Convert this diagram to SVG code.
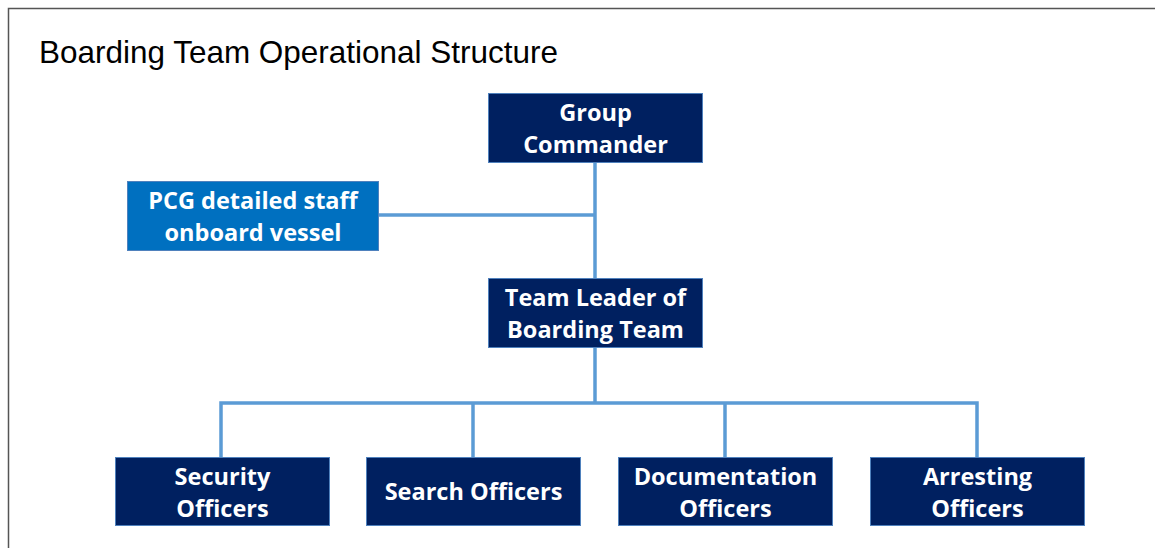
<svg xmlns="http://www.w3.org/2000/svg" width="1155" height="548" viewBox="0 0 1155 548">
<style>
.frame{fill:none;stroke:#555;stroke-width:1.5}
.box{fill:#002060;stroke:#4F81BD;stroke-width:1}
.box2{fill:#0070C0;stroke:#4F81BD;stroke-width:1}
.lbl{font-family:"Open Sans","Liberation Sans",sans-serif;font-weight:bold;font-size:23.5px;fill:#fff;text-anchor:middle}
.title{font-family:"Liberation Sans",Arial,sans-serif;font-size:32px;fill:#000}
.con{fill:none;stroke:#5B9BD5;stroke-width:3.5}
</style>
<rect x="0" y="0" width="1155" height="548" fill="#fff"/>
<path class="frame" d="M8.5,548 V8.5 H1155"/>
<text class="title" x="39" y="63" textLength="519" lengthAdjust="spacingAndGlyphs">Boarding Team Operational Structure</text>
<g id="connectors">
<path class="con" d="M595,162 V278"/>
<path class="con" d="M378,215 H595"/>
<path class="con" d="M595,348 V403"/>
<path class="con" d="M221,457 V403 H977 V457"/>
<path class="con" d="M473,403 V457"/>
<path class="con" d="M725,403 V457"/>
</g>
<g id="group-commander">
<rect class="box" x="488.5" y="93.5" width="214" height="69"/>
<text class="lbl" x="595.5" y="121">Group</text>
<text class="lbl" x="595.5" y="153">Commander</text>
</g>
<g id="pcg-staff">
<rect class="box2" x="127.5" y="181.5" width="251" height="69"/>
<text class="lbl" x="253" y="209">PCG detailed staff</text>
<text class="lbl" x="253" y="241">onboard vessel</text>
</g>
<g id="team-leader">
<rect class="box" x="488.5" y="278.5" width="214" height="69"/>
<text class="lbl" x="595.5" y="306">Team Leader of</text>
<text class="lbl" x="595.5" y="338">Boarding Team</text>
</g>
<g id="security">
<rect class="box" x="115.5" y="457.5" width="214" height="68"/>
<text class="lbl" x="222.5" y="485">Security</text>
<text class="lbl" x="222.5" y="517">Officers</text>
</g>
<g id="search">
<rect class="box" x="366.5" y="457.5" width="214" height="68"/>
<text class="lbl" x="473.5" y="500">Search Officers</text>
</g>
<g id="documentation">
<rect class="box" x="618.5" y="457.5" width="214" height="68"/>
<text class="lbl" x="725.5" y="485">Documentation</text>
<text class="lbl" x="725.5" y="517">Officers</text>
</g>
<g id="arresting">
<rect class="box" x="870.5" y="457.5" width="214" height="68"/>
<text class="lbl" x="977.5" y="485">Arresting</text>
<text class="lbl" x="977.5" y="517">Officers</text>
</g>
</svg>
